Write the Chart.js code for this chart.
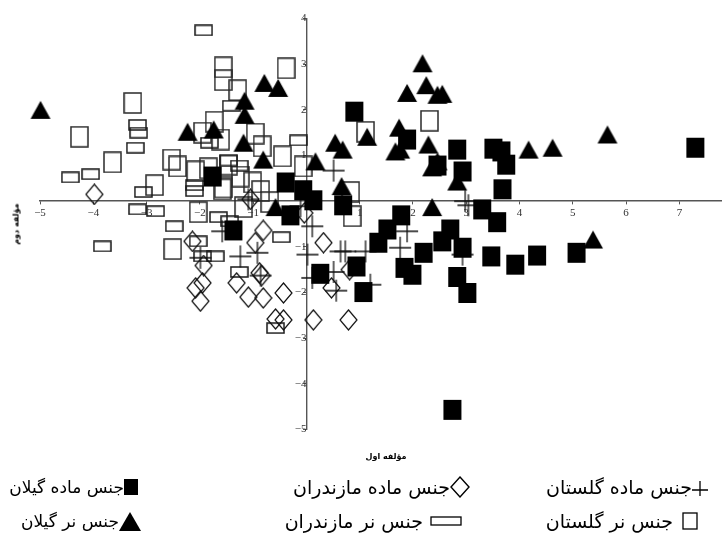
<!DOCTYPE html>
<html>
<head>
<meta charset="utf-8">
<script src="https://cdn.jsdelivr.net/npm/chart.js@4.4.0/dist/chart.umd.min.js"></script>
<style>
html, body { margin: 0; padding: 0; background: #fff; }
#wrap { position: relative; width: 722px; height: 536px; overflow: hidden; }
#chart { position: absolute; left: 0; top: 0; }
.lg { position: absolute; direction: rtl; white-space: nowrap; font-family: 'DejaVu Sans', sans-serif;
      font-size: 19px; color: #000; line-height: 24px; display: flex; align-items: center; }
.lg.narrow { font-size: 17px; }
.lg svg { display: block; }
.ttl { position: absolute; font-family: 'DejaVu Sans', sans-serif; font-size: 8px; font-weight: bold;
       color: #000; white-space: nowrap; direction: rtl; transform: translate(-50%, -50%); }
</style>
</head>
<body>
<div id="wrap">
  <canvas id="chart" width="722" height="536"></canvas>

  <div class="ttl" style="left:16px;top:224px;transform:translate(-50%,-50%) rotate(-90deg)">مؤلفه دوم</div>
  <div class="ttl" style="left:386px;top:456px">مؤلفه اول</div>

  <!-- legend, row 1 -->
  <div class="lg" style="right:14px;top:475px">
    <svg width="16" height="18"><path d="M0 12H16M8 3V18" stroke="#000" stroke-width="1.3" fill="none"/></svg>
    <span>جنس ماده گلستان</span>
  </div>
  <div class="lg" style="right:252px;top:475px">
    <svg width="20" height="22"><path d="M10 1L19 11L10 21L1 11Z" stroke="#000" stroke-width="1.4" fill="none"/></svg>
    <span>جنس ماده مازندران</span>
  </div>
  <div class="lg narrow" style="right:584px;top:475px">
    <svg width="14" height="16"><rect x="0" y="0" width="14" height="16" fill="#000"/></svg>
    <span>جنس ماده گیلان</span>
  </div>

  <!-- legend, row 2 -->
  <div class="lg" style="right:24px;top:509px">
    <svg width="16" height="18" style="margin-left:9px"><rect x="1" y="1" width="14" height="16" stroke="#000" stroke-width="1.3" fill="none"/></svg>
    <span>جنس نر گلستان</span>
  </div>
  <div class="lg" style="right:260px;top:509px">
    <svg width="32" height="10" style="margin-left:7px"><rect x="1" y="1" width="30" height="8" stroke="#000" stroke-width="1.3" fill="none"/></svg>
    <span>جنس نر مازندران</span>
  </div>
  <div class="lg narrow" style="right:581px;top:509px">
    <svg width="22" height="19"><path d="M11 0L22 19H0Z" fill="#000"/></svg>
    <span>جنس نر گیلان</span>
  </div>
</div>

<script>
// series names (legend order: Golestan, Mazandaran, Gilan)
const seriesNames = ['جنس ماده گلستان', 'جنس نر گلستان', 'جنس ماده مازندران',
                     'جنس نر مازندران', 'جنس ماده گیلان', 'جنس نر گیلان'];

const xTicks = [-5, -4, -3, -2, -1, 1, 2, 3, 4, 5, 6, 7];
const yTicks = [-5, -4, -3, -2, -1, 1, 2, 3, 4];

// [component 1, component 2]
const femaleGolestan = [
  [0.51, 0.67], [-1.09, 0.04], [-1.58, -0.66], [-1.99, -1.24], [-1.24, -1.21],
  [-0.92, -1.13], [-0.86, -1.63], [0.11, -0.55], [0.02, -1.17], [0.64, -1.10],
  [0.73, -1.10], [1.11, -1.10], [0.11, -1.68], [0.51, -1.55], [0.56, -1.96],
  [1.20, -1.83], [1.89, -0.66], [1.76, -1.02], [2.98, 0.00], [3.04, -0.09],
  [2.93, -1.17], [-0.11, -0.11]
];
const maleGolestan = [
  [-0.38, 2.91], [-1.56, 2.93], [-1.56, 2.65], [-1.29, 2.43], [-3.26, 2.15],
  [-4.26, 1.41], [-3.64, 0.85], [-2.85, 0.35], [-1.73, 1.74], [-1.95, 1.50],
  [-1.61, 1.35], [-0.96, 1.48], [-0.83, 1.20], [-0.45, 0.98], [-0.06, 0.76],
  [-2.53, 0.91], [-2.42, 0.76], [-2.08, 0.65], [-1.84, 0.72], [-1.56, 0.30],
  [-0.86, 0.22], [2.31, 1.76], [1.11, 1.52], [-2.03, -0.24], [-2.51, -1.05],
  [-1.18, -0.13], [-0.69, -0.02], [-1.58, 0.26], [0.86, -0.33], [-1.46, 0.80],
  [-1.24, 0.54], [-1.01, 0.41], [0.83, 0.20]
];
const femaleMazandaran = [
  [-3.98, 0.15], [-1.05, 0.04], [-2.14, -0.88], [-1.93, -1.41], [-2.08, -1.90],
  [-1.95, -1.79], [-1.99, -2.19], [-1.31, -1.79], [-1.09, -2.10], [-0.81, -2.12],
  [-0.96, -0.91], [-0.81, -0.64], [-0.88, -1.57], [-0.84, -1.63], [-0.43, -2.01],
  [-0.58, -2.58], [-0.43, -2.60], [0.13, -2.60], [0.79, -2.60], [0.32, -0.91],
  [0.47, -1.90], [0.81, -1.50], [-0.04, -0.26]
];
const maleMazandaran = [
  [-1.93, 3.74], [-1.41, 2.09], [-3.17, 1.67], [-3.15, 1.50], [-3.21, 1.17],
  [-4.05, 0.59], [-4.43, 0.52], [-3.06, 0.20], [-3.17, -0.18], [-2.83, -0.22],
  [-2.48, -0.55], [-2.03, -0.88], [-3.83, -0.99], [-1.65, -0.35], [-1.44, -0.44],
  [-1.95, -1.21], [-1.71, -1.21], [-1.26, -1.55], [-0.47, -0.79], [-0.58, -2.78],
  [-0.15, 1.33], [-1.46, 0.89], [-1.26, 0.78], [-1.82, 1.28], [-2.10, 0.35],
  [-2.10, 0.22]
];
const femaleGilan = [
  [-1.76, 0.54], [-1.37, -0.64], [-0.39, 0.41], [-0.06, 0.24], [0.13, 0.02],
  [-0.30, -0.31], [0.69, -0.09], [0.90, 1.96], [1.89, 1.35], [2.46, 0.78],
  [2.83, 1.13], [2.93, 0.65], [3.51, 1.15], [3.66, 1.09], [3.75, 0.80],
  [3.68, 0.26], [3.30, -0.18], [3.58, -0.46], [1.78, -0.31], [1.52, -0.62],
  [1.35, -0.91], [2.20, -1.13], [2.70, -0.62], [2.55, -0.88], [2.93, -1.02],
  [1.84, -1.46], [1.99, -1.61], [2.83, -1.66], [3.02, -2.01], [3.47, -1.21],
  [3.92, -1.39], [4.33, -1.19], [5.07, -1.13], [0.26, -1.59], [0.94, -1.43],
  [1.07, -1.99], [2.74, -4.57], [7.30, 1.17]
];
const maleGilan = [
  [-4.99, 2.00], [-2.23, 1.52], [-1.74, 1.57], [-0.79, 2.59], [-0.53, 2.48],
  [-1.16, 2.20], [-1.16, 1.89], [-1.18, 1.28], [-0.81, 0.91], [0.17, 0.87],
  [0.54, 1.28], [0.68, 1.13], [0.66, 0.33], [-0.58, -0.13], [2.18, 3.02],
  [2.25, 2.54], [1.89, 2.37], [2.46, 2.33], [2.55, 2.35], [1.74, 1.61],
  [1.14, 1.41], [1.67, 1.09], [1.76, 1.13], [2.29, 1.24], [2.46, 0.87],
  [2.36, 0.74], [2.83, 0.43], [4.17, 1.13], [4.62, 1.17], [5.65, 1.46],
  [2.36, -0.13], [5.38, -0.84]
];

// marker images
function mark(w, h, draw) {
  const c = document.createElement('canvas');
  c.width = w + 2;
  c.height = h + 2;
  const g = c.getContext('2d');
  g.translate(1, 1);
  draw(g, w, h);
  return c;
}
const crossMark = mark(22, 22, (g, w, h) => {
  g.strokeStyle = '#111'; g.lineWidth = 1.3;
  g.beginPath(); g.moveTo(0, h / 2); g.lineTo(w, h / 2); g.moveTo(w / 2, 0); g.lineTo(w / 2, h); g.stroke();
});
const openSquare = mark(17, 20, (g, w, h) => {
  g.strokeStyle = '#2a2a2a'; g.lineWidth = 1.5; g.strokeRect(0, 0, w, h);
});
const diamondMark = mark(17, 20, (g, w, h) => {
  g.strokeStyle = '#111'; g.lineWidth = 1.2;
  g.beginPath(); g.moveTo(w / 2, 0); g.lineTo(w, h / 2); g.lineTo(w / 2, h); g.lineTo(0, h / 2); g.closePath(); g.stroke();
});
const wideRect = mark(17, 10, (g, w, h) => {
  g.strokeStyle = '#1a1a1a'; g.lineWidth = 1.5; g.strokeRect(0, 0, w, h);
});
const filledSquare = mark(18, 20, (g, w, h) => {
  g.fillStyle = '#000'; g.fillRect(0, 0, w, h);
});
const triangleMark = mark(20, 18, (g, w, h) => {
  g.fillStyle = '#000';
  g.beginPath(); g.moveTo(w / 2, 0); g.lineTo(w, h); g.lineTo(0, h); g.closePath(); g.fill();
});

function series(name, pts, style, order) {
  return {
    label: name,
    data: pts.map(p => ({ x: p[0], y: p[1] })),
    pointStyle: style,
    pointRadius: 8,
    clip: false,
    order: order
  };
}

const fmt = v => (v < 0 ? '\u2212' + Math.abs(v) : String(v));
// axes sit inside the plot, so they should not push the plot area inwards
const noPad = s => { s.paddingLeft = 0; s.paddingRight = 0; s.paddingTop = 0; s.paddingBottom = 0; };

new Chart(document.getElementById('chart'), {
  type: 'scatter',
  data: {
    datasets: [
      series(seriesNames[0], femaleGolestan, crossMark, 3),
      series(seriesNames[1], maleGolestan, openSquare, 6),
      series(seriesNames[2], femaleMazandaran, diamondMark, 4),
      series(seriesNames[3], maleMazandaran, wideRect, 5),
      series(seriesNames[4], femaleGilan, filledSquare, 1),
      series(seriesNames[5], maleGilan, triangleMark, 2)
    ]
  },
  options: {
    responsive: false,
    animation: false,
    events: [],
    layout: { autoPadding: false, padding: { left: 40, right: 0, top: 18.5, bottom: 106.5 } },
    plugins: { legend: { display: false }, tooltip: { enabled: false } },
    scales: {
      x: {
        type: 'linear', min: -5, max: 7.8,
        position: { y: 0 },
        afterBuildTicks: s => { s.ticks = xTicks.map(v => ({ value: v })); },
        afterFit: noPad,
        grid: { display: true, drawOnChartArea: false, drawTicks: true, tickLength: 3, color: '#555' },
        border: { display: true, color: '#555', width: 1.4 },
        ticks: { padding: 2, color: '#333', autoSkip: false, maxRotation: 0,
                 font: { family: 'Liberation Serif', size: 11 }, callback: v => fmt(v) }
      },
      y: {
        type: 'linear', min: -5, max: 4,
        position: { x: 0 },
        afterBuildTicks: s => { s.ticks = yTicks.map(v => ({ value: v })); },
        afterFit: noPad,
        grid: { display: true, drawOnChartArea: false, drawTicks: true, tickLength: 3, color: '#555' },
        border: { display: true, color: '#555', width: 1.4 },
        ticks: { padding: 1, color: '#333', autoSkip: false,
                 font: { family: 'Liberation Serif', size: 11 }, callback: v => fmt(v) }
      }
    }
  }
});
</script>
</body>
</html>
